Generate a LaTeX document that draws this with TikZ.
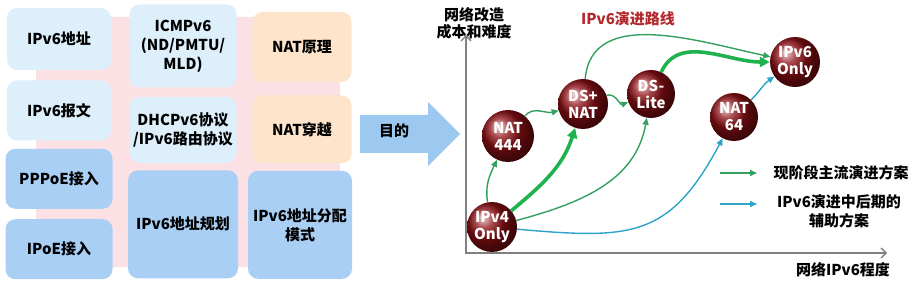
\documentclass[tikz,border=0pt]{standalone}
\usepackage{fontspec}
\setmainfont{Noto Sans CJK SC}
\usepackage{xcolor}
\usetikzlibrary{arrows.meta,positioning}

\definecolor{tileLight}{HTML}{DCEFFA}
\definecolor{tileMid}{HTML}{A9CFF5}
\definecolor{tilePeach}{HTML}{FDE4CB}
\definecolor{blobPink}{HTML}{FBE1E4}
\definecolor{arrowBlue}{HTML}{9DC8F0}
\definecolor{lineGreen}{HTML}{33A060}
\definecolor{thickGreen}{HTML}{20B24E}
\definecolor{lineBlue}{HTML}{2EA3C8}
\definecolor{titleRed}{HTML}{B3282D}
\definecolor{sphereRed}{HTML}{8E0F14}

\newcommand{\tilefont}{\fontsize{15}{19}\selectfont\bfseries}

\begin{document}
\begin{tikzpicture}[
    x=1pt, y=1pt,
    tile/.style={rectangle, rounded corners=10pt, minimum width=104pt, align=center, font=\tilefont, inner sep=2pt},
    light/.style={tile, fill=tileLight},
    mid/.style={tile, fill=tileMid},
    peach/.style={tile, fill=tilePeach, minimum width=99pt},
    sphere/.style={circle, minimum size=50pt, inner sep=0pt, ball color=sphereRed, text=white, align=center, font=\fontsize{15}{17}\selectfont\bfseries},
    label/.style={align=center, font=\tilefont},
    route/.style={draw=lineGreen, line width=1.4pt, -{Triangle[length=7pt,width=6pt]}},
    mainroute/.style={draw=thickGreen, line width=3.6pt, -{Triangle[length=10pt,width=10pt]}},
    aux/.style={draw=lineBlue, line width=1.4pt, -{Triangle[length=7pt,width=6pt]}},
    axis/.style={draw=black!50, line width=1.3pt, {Straight Barb[length=5pt]}-{Straight Barb[length=5pt]}},
  ]
  \useasboundingbox (0,0) rectangle (917,281);

  % left panel
  \fill[blobPink, rounded corners=40pt] (36,14) rectangle (340,264);

  \node[light, minimum height=62pt] (addr) at (59,242) {IPv6地址};
  \node[light, minimum height=60pt, below=10pt of addr] (msg) {IPv6报文};
  \node[mid, minimum height=60pt, minimum width=107pt, below=8pt of msg] (pppoe) {PPPoE接入};
  \node[mid, minimum height=60pt, minimum width=107pt, below=10pt of pppoe] (ipoe) {IPoE接入};

  \node[light, minimum height=83pt, minimum width=107pt] (icmp) at (183,235) {ICMPv6\\(ND/PMTU/\\MLD)};
  \node[light, minimum height=66pt, minimum width=107pt, below=9pt of icmp] (dhcp) {DHCPv6协议\\/IPv6路由协议};
  \node[mid, minimum height=108pt, minimum width=110pt, below=7pt of dhcp] (plan) {IPv6地址规划};

  \node[peach, minimum height=70pt] (natp) at (302,234) {NAT原理};
  \node[peach, minimum height=68pt, below=13pt of natp] (natt) {NAT穿越};
  \node[mid, minimum height=108pt, below=7pt of natt, xshift=-2pt] (alloc) {IPv6地址分配\\模式};

  % big arrow
  \fill[arrowBlue] (360,128) -- (428,128) -- (428,115) -- (460,147) -- (428,179) -- (428,166) -- (360,166) -- cycle;
  \node[label] (goal) at (394,150) {目的};

  % chart
  \coordinate (origin) at (466,28);
  \coordinate (ytip) at (466,246);
  \coordinate (xtip) at (887,28);
  \draw[axis] (ytip) -- (origin) -- (xtip);
  \node[label, font=\fontsize{15}{17}\selectfont\bfseries] (ylab) at (474,258) {网络改造\\成本和难度};
  \node[label] (xlab) at (843,11) {网络IPv6程度};
  \node[label, text=titleRed] (title) at (628,262) {IPv6演进路线};

  \node[sphere] (v4) at (492,54) {IPv4\\Only};
  \node[sphere, minimum size=52pt] (nat444) at (508,145) {NAT\\444};
  \node[sphere] (dsnat) at (583,177) {DS+\\NAT};
  \node[sphere, minimum size=48pt] (dslite) at (651,187) {DS-\\Lite};
  \node[sphere, minimum size=48pt] (nat64) at (734,164) {NAT\\64};
  \node[sphere] (v6) at (795,219) {IPv6\\Only};

  % routes
  \draw[route] (v4) to[out=100, in=-115] (nat444);
  \draw[route] (nat444) to[out=50, in=195] (dsnat);
  \draw[mainroute] (v4) to[out=40, in=-108] (dsnat);
  \draw[route] (dsnat) to[out=20, in=200] (dslite);
  \draw[route] (dsnat) to[out=85, in=168] (v6);
  \draw[mainroute] (dslite) to[out=65, in=180] (v6);
  \draw[route] (v4) to[out=15, in=-100] (dslite);
  \draw[aux] (v4) to[out=-5, in=-118, looseness=1.3] (nat64);
  \draw[aux] (nat64) to[out=45, in=215] (v6);

  % legend
  \coordinate (g1) at (720,108);
  \coordinate (g2) at (757,108);
  \coordinate (b1) at (720,77);
  \coordinate (b2) at (757,77);
  \draw[route] (g1) -- (g2);
  \draw[aux] (b1) -- (b2);
  \node[label, anchor=west] (leg1) at (770,108) {现阶段主流演进方案};
  \node[label] (leg2) at (839,70) {IPv6演进中后期的\\辅助方案};
\end{tikzpicture}
\end{document}
